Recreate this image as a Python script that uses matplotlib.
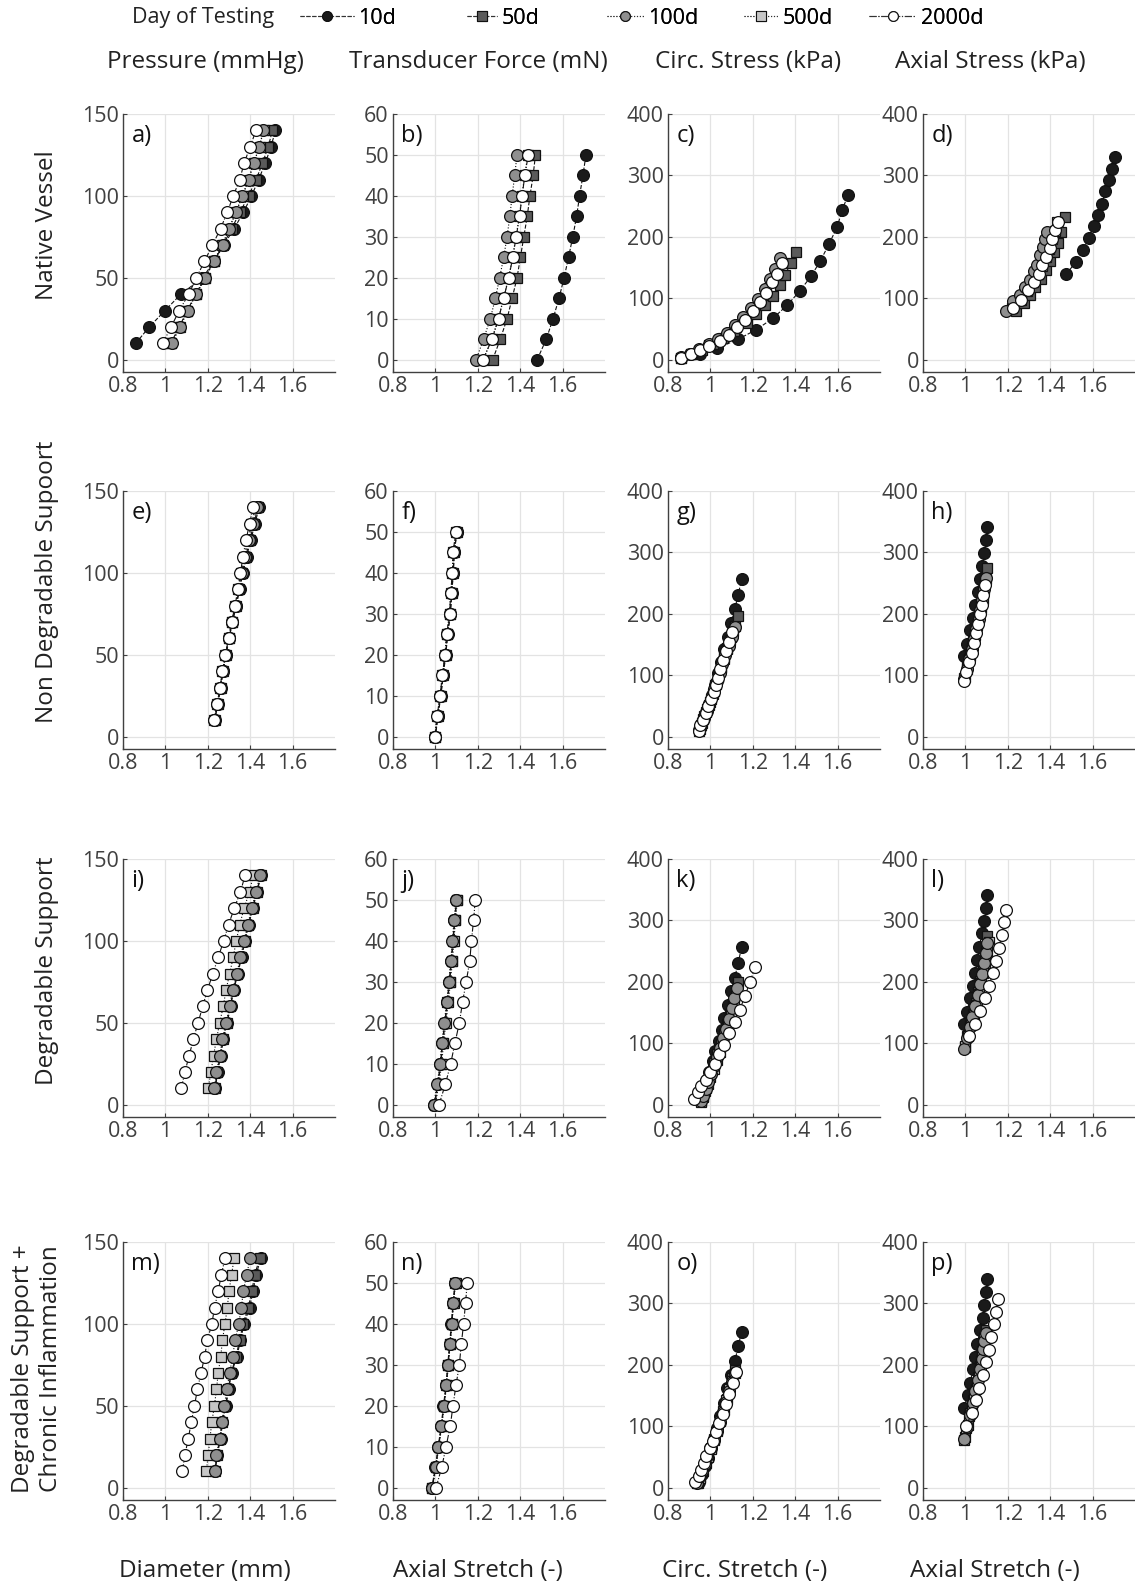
import matplotlib
matplotlib.use('Agg')
import matplotlib.pyplot as plt
from matplotlib.lines import Line2D

plt.rcParams['font.family'] = ['Open Sans', 'DejaVu Sans']

days = ['10d', '50d', '100d', '500d', '2000d']
face = ['#1a1a1a', '#5a5a5a', '#8f8f8f', '#c6c6c6', 'white']
mark = ['o', 's', 'o', 's', 'o']
styles = ['--', '--', ':', ':', '-.']
sizes = [8.5, 7.2, 8.5, 7.2, 8.5]
layer = [2, 3, 4, 3.5, 5]

pressure = [10, 20, 30, 40, 50, 60, 70, 80, 90, 100, 110, 120, 130, 140]
force = [0, 5, 10, 15, 20, 25, 30, 35, 40, 45, 50]

col_titles = ['Pressure (mmHg)', 'Transducer Force (mN)', 'Circ. Stress (kPa)', 'Axial Stress (kPa)']
x_titles = ['Diameter (mm)', 'Axial Stretch (-)', 'Circ. Stretch (-)', 'Axial Stretch (-)']
row_titles = ['Native Vessel', 'Non Degradable Supoort', 'Degradable Support',
              'Degradable Support +\nChronic Inflammation']
x_ticks = [0.8, 1, 1.2, 1.4, 1.6]
x_ticklabels = ['0.8', '1', '1.2', '1.4', '1.6']
y_ticks = [[0, 50, 100, 150], [0, 10, 20, 30, 40, 50, 60],
           [0, 100, 200, 300, 400], [0, 100, 200, 300, 400]]

# ---- native vessel ----
a_10d = [0.860, 0.924, 0.998, 1.073, 1.175, 1.230, 1.275, 1.324, 1.368, 1.406, 1.440, 1.471, 1.498, 1.519]
a_50d = [1.025, 1.065, 1.103, 1.143, 1.186, 1.228, 1.272, 1.312, 1.352, 1.392, 1.428, 1.458, 1.485, 1.505]
a_100d = [1.030, 1.070, 1.106, 1.146, 1.189, 1.229, 1.270, 1.300, 1.332, 1.363, 1.392, 1.416, 1.443, 1.462]
a_500d = [1.028, 1.068, 1.104, 1.144, 1.187, 1.227, 1.268, 1.300, 1.333, 1.364, 1.393, 1.417, 1.444, 1.463]
a_2000d = [0.987, 1.027, 1.065, 1.110, 1.146, 1.184, 1.222, 1.260, 1.292, 1.320, 1.351, 1.371, 1.400, 1.427]

b_10d = [1.480, 1.523, 1.555, 1.583, 1.607, 1.628, 1.648, 1.666, 1.680, 1.696, 1.710]
b_50d = [1.270, 1.306, 1.338, 1.362, 1.385, 1.401, 1.417, 1.433, 1.446, 1.461, 1.472]
b_100d = [1.192, 1.227, 1.259, 1.283, 1.303, 1.322, 1.338, 1.351, 1.362, 1.374, 1.385]
b_500d = [1.226, 1.266, 1.297, 1.321, 1.345, 1.364, 1.380, 1.396, 1.408, 1.421, 1.436]
b_2000d = [1.224, 1.267, 1.298, 1.322, 1.346, 1.365, 1.381, 1.397, 1.409, 1.422, 1.438]

c_10d_x = [0.863, 0.950, 1.033, 1.129, 1.217, 1.297, 1.363, 1.422, 1.475, 1.519, 1.559, 1.598, 1.621, 1.649]
c_10d_y = [3, 10, 19, 33, 49, 68, 89, 112, 136, 161, 188, 216, 243, 268]
c_50d_x = [0.862, 0.910, 0.960, 1.010, 1.060, 1.110, 1.173, 1.213, 1.257, 1.295, 1.327, 1.352, 1.379, 1.403]
c_50d_y = [3, 9, 16, 25, 35, 47, 60, 74, 89, 104, 121, 138, 157, 175]
c_100d_x = [0.860, 0.905, 0.948, 0.992, 1.038, 1.080, 1.118, 1.155, 1.193, 1.226, 1.256, 1.283, 1.307, 1.330]
c_100d_y = [4, 10, 17, 25, 34, 44, 56, 69, 84, 99, 115, 132, 148, 165]
c_500d_x = [0.862, 0.907, 0.950, 0.994, 1.040, 1.083, 1.122, 1.160, 1.198, 1.232, 1.262, 1.288, 1.312, 1.336]
c_500d_y = [3, 9, 16, 24, 32, 42, 54, 66, 81, 95, 110, 127, 141, 158]
c_2000d_x = [0.863, 0.908, 0.951, 0.995, 1.043, 1.086, 1.125, 1.162, 1.200, 1.233, 1.263, 1.289, 1.313, 1.337]
c_2000d_y = [3, 9, 16, 23, 31, 41, 53, 65, 80, 94, 109, 126, 140, 157]

d_10d_x = [1.476, 1.520, 1.555, 1.581, 1.605, 1.625, 1.644, 1.660, 1.677, 1.692, 1.707]
d_10d_y = [139, 159, 178, 198, 217, 235, 254, 274, 292, 311, 330]
d_50d_x = [1.240, 1.275, 1.305, 1.330, 1.355, 1.380, 1.400, 1.418, 1.435, 1.453, 1.471]
d_50d_y = [80, 92, 105, 118, 132, 146, 160, 175, 190, 208, 233]
d_100d_x = [1.193, 1.225, 1.256, 1.283, 1.303, 1.322, 1.338, 1.350, 1.366, 1.374, 1.385]
d_100d_y = [80, 95, 106, 118, 129, 145, 155, 170, 184, 196, 208]
d_500d_x = [1.222, 1.261, 1.292, 1.319, 1.344, 1.360, 1.379, 1.394, 1.407, 1.421, 1.434]
d_500d_y = [84, 97, 112, 126, 139, 153, 167, 181, 196, 210, 224]
d_2000d_x = [1.225, 1.264, 1.295, 1.322, 1.347, 1.363, 1.382, 1.397, 1.410, 1.424, 1.437]
d_2000d_y = [85, 98, 113, 127, 140, 154, 168, 182, 197, 211, 225]

# ---- non degradable support ----
e_10d = [1.233, 1.247, 1.261, 1.272, 1.286, 1.301, 1.316, 1.335, 1.350, 1.366, 1.383, 1.403, 1.422, 1.442]
e_50d = [1.232, 1.246, 1.260, 1.271, 1.285, 1.300, 1.315, 1.333, 1.348, 1.363, 1.379, 1.398, 1.417, 1.437]
e_100d = [1.231, 1.245, 1.259, 1.270, 1.284, 1.299, 1.314, 1.331, 1.345, 1.359, 1.374, 1.393, 1.412, 1.432]
e_500d = [1.230, 1.244, 1.258, 1.269, 1.283, 1.298, 1.313, 1.330, 1.343, 1.357, 1.370, 1.388, 1.406, 1.425]
e_2000d = [1.230, 1.244, 1.258, 1.269, 1.283, 1.298, 1.312, 1.329, 1.341, 1.354, 1.366, 1.380, 1.397, 1.414]

f_10d = [1.000, 1.012, 1.026, 1.037, 1.049, 1.058, 1.071, 1.077, 1.085, 1.089, 1.102]
f_50d = [0.999, 1.011, 1.025, 1.036, 1.048, 1.057, 1.070, 1.076, 1.084, 1.088, 1.101]
f_100d = [0.998, 1.010, 1.024, 1.035, 1.047, 1.056, 1.069, 1.075, 1.083, 1.087, 1.100]
f_500d = [0.997, 1.008, 1.022, 1.033, 1.045, 1.053, 1.067, 1.072, 1.080, 1.083, 1.097]
f_2000d = [0.997, 1.008, 1.022, 1.033, 1.045, 1.053, 1.067, 1.072, 1.080, 1.083, 1.097]

g_10d_x = [0.952, 0.965, 0.978, 0.993, 1.007, 1.021, 1.034, 1.050, 1.066, 1.082, 1.095, 1.115, 1.131, 1.147]
g_10d_y = [15, 27, 40, 54, 68, 84, 104, 122, 143, 163, 185, 208, 231, 256]
g_50d_x = [0.950, 0.960, 0.972, 0.985, 0.998, 1.010, 1.023, 1.036, 1.050, 1.064, 1.080, 1.097, 1.114, 1.131]
g_50d_y = [12, 22, 33, 45, 57, 70, 84, 98, 113, 129, 145, 162, 180, 197]
g_100d_x = [0.948, 0.958, 0.970, 0.982, 0.995, 1.007, 1.019, 1.031, 1.043, 1.057, 1.071, 1.086, 1.101, 1.115]
g_100d_y = [11, 21, 31, 42, 54, 66, 78, 91, 104, 118, 133, 148, 163, 178]
g_500d_x = [0.946, 0.955, 0.967, 0.979, 0.992, 1.004, 1.016, 1.028, 1.038, 1.050, 1.064, 1.077, 1.091, 1.106]
g_500d_y = [9, 19, 29, 40, 51, 62, 74, 86, 98, 112, 127, 142, 157, 172]
g_2000d_x = [0.945, 0.953, 0.965, 0.977, 0.990, 1.002, 1.015, 1.026, 1.035, 1.047, 1.061, 1.074, 1.087, 1.102]
g_2000d_y = [9, 19, 28, 39, 50, 61, 72, 84, 96, 110, 125, 140, 155, 170]

h_10d_x = [0.994, 1.008, 1.021, 1.034, 1.045, 1.058, 1.069, 1.077, 1.089, 1.097, 1.102]
h_10d_y = [131, 151, 173, 193, 215, 235, 257, 278, 299, 321, 342]
h_50d_x = [0.996, 1.008, 1.020, 1.032, 1.043, 1.054, 1.065, 1.075, 1.084, 1.093, 1.102]
h_50d_y = [98, 115, 132, 148, 165, 182, 199, 216, 235, 254, 274]
h_100d_x = [0.995, 1.006, 1.018, 1.030, 1.041, 1.052, 1.062, 1.071, 1.080, 1.088, 1.096]
h_100d_y = [94, 110, 127, 143, 159, 175, 191, 207, 223, 240, 258]
h_500d_x = [0.995, 1.006, 1.019, 1.030, 1.041, 1.052, 1.063, 1.072, 1.081, 1.089, 1.097]
h_500d_y = [95, 111, 127, 143, 160, 176, 193, 209, 225, 241, 257]
h_2000d_x = [0.994, 1.005, 1.018, 1.029, 1.040, 1.050, 1.061, 1.069, 1.077, 1.085, 1.094]
h_2000d_y = [90, 106, 122, 137, 153, 169, 184, 199, 215, 231, 247]

# ---- degradable support ----
i_10d = [1.236, 1.246, 1.261, 1.274, 1.291, 1.308, 1.322, 1.342, 1.359, 1.376, 1.393, 1.413, 1.432, 1.452]
i_50d = [1.234, 1.244, 1.259, 1.272, 1.289, 1.306, 1.320, 1.340, 1.357, 1.374, 1.391, 1.411, 1.430, 1.450]
i_100d = [1.231, 1.241, 1.256, 1.269, 1.286, 1.303, 1.317, 1.337, 1.354, 1.371, 1.388, 1.408, 1.427, 1.447]
i_500d = [1.202, 1.215, 1.227, 1.241, 1.256, 1.273, 1.286, 1.303, 1.320, 1.334, 1.351, 1.371, 1.397, 1.414]
i_2000d = [1.075, 1.092, 1.112, 1.132, 1.154, 1.176, 1.198, 1.224, 1.249, 1.275, 1.298, 1.325, 1.354, 1.376]

j_10d = [0.995, 1.010, 1.024, 1.032, 1.044, 1.055, 1.065, 1.074, 1.082, 1.090, 1.099]
j_50d = [0.997, 1.012, 1.026, 1.034, 1.046, 1.057, 1.067, 1.076, 1.084, 1.092, 1.101]
j_100d = [0.992, 1.008, 1.022, 1.030, 1.042, 1.053, 1.063, 1.072, 1.080, 1.088, 1.097]
j_500d = [1.000, 1.016, 1.030, 1.038, 1.050, 1.061, 1.071, 1.080, 1.088, 1.094, 1.104]
j_2000d = [1.017, 1.047, 1.072, 1.092, 1.113, 1.128, 1.145, 1.162, 1.170, 1.180, 1.188]

k_10d_x = [0.958, 0.969, 0.981, 0.994, 1.010, 1.023, 1.039, 1.053, 1.066, 1.082, 1.098, 1.115, 1.131, 1.147]
k_10d_y = [8, 22, 38, 54, 71, 87, 103, 122, 141, 163, 185, 207, 231, 256]
k_50d_x = [0.957, 0.967, 0.978, 0.990, 1.004, 1.018, 1.033, 1.048, 1.063, 1.078, 1.093, 1.106, 1.119, 1.131]
k_50d_y = [6, 15, 27, 40, 54, 68, 83, 99, 115, 131, 148, 165, 182, 199]
k_100d_x = [0.956, 0.966, 0.977, 0.989, 1.002, 1.016, 1.031, 1.046, 1.061, 1.075, 1.089, 1.101, 1.113, 1.125]
k_100d_y = [6, 14, 25, 37, 50, 63, 78, 93, 108, 124, 140, 157, 174, 190]
k_500d_x = [0.955, 0.965, 0.975, 0.988, 1.000, 1.015, 1.030, 1.045, 1.060, 1.073, 1.085, 1.097, 1.110, 1.123]
k_500d_y = [5, 12, 22, 33, 45, 58, 72, 86, 100, 115, 131, 148, 166, 182]
k_2000d_x = [0.921, 0.940, 0.958, 0.977, 0.997, 1.021, 1.042, 1.066, 1.090, 1.115, 1.139, 1.163, 1.187, 1.211]
k_2000d_y = [10, 20, 30, 41, 53, 67, 83, 98, 116, 135, 155, 177, 200, 224]

l_10d_x = [0.994, 1.008, 1.021, 1.034, 1.045, 1.056, 1.066, 1.077, 1.089, 1.097, 1.102]
l_10d_y = [131, 151, 173, 193, 215, 236, 257, 279, 299, 321, 342]
l_50d_x = [0.996, 1.008, 1.022, 1.035, 1.048, 1.060, 1.071, 1.082, 1.091, 1.097, 1.102]
l_50d_y = [94, 112, 130, 148, 166, 184, 202, 220, 238, 256, 275]
l_100d_x = [0.994, 1.006, 1.020, 1.033, 1.046, 1.058, 1.069, 1.079, 1.088, 1.095, 1.100]
l_100d_y = [91, 108, 126, 143, 161, 178, 196, 213, 230, 247, 264]
l_500d_x = [0.997, 1.010, 1.026, 1.040, 1.053, 1.065, 1.074, 1.085, 1.094, 1.102, 1.110]
l_500d_y = [95, 112, 129, 146, 163, 181, 198, 215, 231, 248, 265]
l_2000d_x = [1.018, 1.045, 1.069, 1.094, 1.113, 1.129, 1.145, 1.158, 1.171, 1.182, 1.190]
l_2000d_y = [112, 132, 153, 173, 194, 215, 234, 255, 276, 297, 317]

# ---- degradable support + chronic inflammation ----
m_10d = [1.236, 1.244, 1.261, 1.269, 1.286, 1.298, 1.312, 1.337, 1.354, 1.371, 1.397, 1.414, 1.427, 1.451]
m_50d = [1.234, 1.242, 1.258, 1.267, 1.283, 1.296, 1.310, 1.333, 1.350, 1.366, 1.391, 1.408, 1.421, 1.445]
m_100d = [1.232, 1.241, 1.256, 1.266, 1.278, 1.290, 1.303, 1.317, 1.329, 1.346, 1.358, 1.368, 1.383, 1.400]
m_500d = [1.193, 1.202, 1.210, 1.219, 1.231, 1.241, 1.249, 1.261, 1.269, 1.281, 1.292, 1.300, 1.312, 1.324]
m_2000d = [1.080, 1.092, 1.108, 1.122, 1.137, 1.151, 1.168, 1.185, 1.198, 1.219, 1.232, 1.249, 1.264, 1.281]

n_10d = [0.983, 1.000, 1.013, 1.027, 1.038, 1.050, 1.058, 1.067, 1.075, 1.083, 1.092]
n_50d = [0.985, 1.002, 1.015, 1.029, 1.040, 1.052, 1.060, 1.069, 1.077, 1.085, 1.094]
n_100d = [0.984, 1.001, 1.014, 1.028, 1.039, 1.051, 1.059, 1.068, 1.076, 1.084, 1.093]
n_500d = [0.986, 1.003, 1.016, 1.030, 1.041, 1.053, 1.061, 1.070, 1.078, 1.086, 1.095]
n_2000d = [1.003, 1.030, 1.050, 1.070, 1.083, 1.097, 1.113, 1.122, 1.133, 1.142, 1.150]

o_10d_x = [0.948, 0.961, 0.975, 0.989, 1.003, 1.017, 1.031, 1.046, 1.062, 1.077, 1.095, 1.115, 1.131, 1.147]
o_10d_y = [10, 22, 35, 49, 64, 80, 97, 116, 138, 162, 183, 206, 230, 254]
o_50d_x = [0.940, 0.952, 0.964, 0.977, 0.990, 1.004, 1.018, 1.032, 1.047, 1.062, 1.076, 1.090, 1.104, 1.117]
o_50d_y = [8, 17, 28, 40, 52, 65, 79, 94, 110, 127, 144, 162, 178, 192]
o_100d_x = [0.935, 0.948, 0.960, 0.973, 0.985, 1.000, 1.015, 1.029, 1.044, 1.059, 1.074, 1.089, 1.103, 1.116]
o_100d_y = [8, 18, 28, 39, 51, 64, 78, 92, 107, 123, 140, 157, 172, 186]
o_500d_x = [0.938, 0.950, 0.962, 0.975, 0.988, 1.002, 1.016, 1.030, 1.045, 1.060, 1.075, 1.090, 1.104, 1.118]
o_500d_y = [7, 16, 27, 38, 50, 63, 77, 92, 108, 125, 143, 160, 174, 186]
o_2000d_x = [0.929, 0.945, 0.956, 0.969, 0.981, 0.997, 1.013, 1.026, 1.042, 1.058, 1.074, 1.090, 1.106, 1.119]
o_2000d_y = [10, 19, 29, 40, 52, 64, 76, 90, 105, 120, 136, 153, 171, 189]

p_10d_x = [0.994, 1.010, 1.024, 1.034, 1.045, 1.056, 1.069, 1.081, 1.089, 1.097, 1.102]
p_10d_y = [130, 151, 171, 193, 213, 234, 256, 276, 298, 318, 340]
p_50d_x = [0.996, 1.010, 1.024, 1.037, 1.050, 1.061, 1.071, 1.080, 1.087, 1.093, 1.097]
p_50d_y = [82, 102, 122, 142, 161, 180, 198, 215, 231, 244, 257]
p_100d_x = [0.995, 1.008, 1.022, 1.035, 1.047, 1.058, 1.068, 1.077, 1.084, 1.090, 1.095]
p_100d_y = [80, 99, 119, 138, 157, 175, 193, 210, 226, 239, 252]
p_500d_x = [0.994, 1.005, 1.018, 1.030, 1.042, 1.053, 1.063, 1.072, 1.080, 1.085, 1.090]
p_500d_y = [78, 97, 116, 135, 153, 171, 189, 206, 222, 234, 246]
p_2000d_x = [1.005, 1.029, 1.048, 1.066, 1.082, 1.098, 1.110, 1.123, 1.134, 1.145, 1.153]
p_2000d_y = [101, 121, 143, 163, 183, 204, 224, 245, 266, 286, 307]

# panel order: rows, then columns (x-series lists, y-series lists)
panels = [
    ('a', [a_10d, a_50d, a_100d, a_500d, a_2000d], [pressure] * 5),
    ('b', [b_10d, b_50d, b_100d, b_500d, b_2000d], [force] * 5),
    ('c', [c_10d_x, c_50d_x, c_100d_x, c_500d_x, c_2000d_x], [c_10d_y, c_50d_y, c_100d_y, c_500d_y, c_2000d_y]),
    ('d', [d_10d_x, d_50d_x, d_100d_x, d_500d_x, d_2000d_x], [d_10d_y, d_50d_y, d_100d_y, d_500d_y, d_2000d_y]),
    ('e', [e_10d, e_50d, e_100d, e_500d, e_2000d], [pressure] * 5),
    ('f', [f_10d, f_50d, f_100d, f_500d, f_2000d], [force] * 5),
    ('g', [g_10d_x, g_50d_x, g_100d_x, g_500d_x, g_2000d_x], [g_10d_y, g_50d_y, g_100d_y, g_500d_y, g_2000d_y]),
    ('h', [h_10d_x, h_50d_x, h_100d_x, h_500d_x, h_2000d_x], [h_10d_y, h_50d_y, h_100d_y, h_500d_y, h_2000d_y]),
    ('i', [i_10d, i_50d, i_100d, i_500d, i_2000d], [pressure] * 5),
    ('j', [j_10d, j_50d, j_100d, j_500d, j_2000d], [force] * 5),
    ('k', [k_10d_x, k_50d_x, k_100d_x, k_500d_x, k_2000d_x], [k_10d_y, k_50d_y, k_100d_y, k_500d_y, k_2000d_y]),
    ('l', [l_10d_x, l_50d_x, l_100d_x, l_500d_x, l_2000d_x], [l_10d_y, l_50d_y, l_100d_y, l_500d_y, l_2000d_y]),
    ('m', [m_10d, m_50d, m_100d, m_500d, m_2000d], [pressure] * 5),
    ('n', [n_10d, n_50d, n_100d, n_500d, n_2000d], [force] * 5),
    ('o', [o_10d_x, o_50d_x, o_100d_x, o_500d_x, o_2000d_x], [o_10d_y, o_50d_y, o_100d_y, o_500d_y, o_2000d_y]),
    ('p', [p_10d_x, p_50d_x, p_100d_x, p_500d_x, p_2000d_x], [p_10d_y, p_50d_y, p_100d_y, p_500d_y, p_2000d_y]),
]

W, H = 1135, 1588
fig = plt.figure(figsize=(W / 100, H / 100), dpi=100)

col_left = [123, 393, 668, 923]
row_bottom = [372, 749, 1117, 1500]
ax_w, ax_h = 212, 258
grey = '#404040'

for k, (lab, xs, ys) in enumerate(panels):
    r, c = divmod(k, 4)
    ax = fig.add_axes([col_left[c] / W, 1 - row_bottom[r] / H, ax_w / W, ax_h / H])
    for s in range(5):
        ax.plot(xs[s], ys[s], ls=styles[s], color='#111111', lw=0.8, zorder=layer[s],
                marker=mark[s], ms=sizes[s], mfc=face[s], mec='#111111', mew=0.9)
    top = y_ticks[c][-1]
    ax.set_ylim(-0.05 * top, top)
    ax.set_xlim(0.8, 1.8)
    ax.set_yticks(y_ticks[c])
    ax.set_xticks(x_ticks)
    ax.set_xticklabels(x_ticklabels)
    ax.grid(True, color='#e3e3e3', lw=0.9)
    ax.set_axisbelow(True)
    for sp in ['top', 'right']:
        ax.spines[sp].set_visible(False)
    for sp in ['left', 'bottom']:
        ax.spines[sp].set_color(grey)
        ax.spines[sp].set_linewidth(1.0)
    ax.tick_params(labelsize=15.5, colors=grey, direction='in', length=3, pad=3)
    ax.text(0.04, 0.89, lab + ')', transform=ax.transAxes, fontsize=17, color='#111111')

col_title_x = [205, 478, 748, 990]
x_title_x = [205, 478, 745, 995]
for c in range(4):
    fig.text(col_title_x[c] / W, 1 - 62 / H, col_titles[c], ha='center', va='center',
             fontsize=17.5, color='#222222')
    fig.text(x_title_x[c] / W, 1 - 1571 / H, x_titles[c], ha='center', va='center',
             fontsize=17.5, color='#222222')

row_title_y = [225, 582, 971, 1369]
row_title_x = [47, 47, 47, 37]
for r in range(4):
    fig.text(row_title_x[r] / W, 1 - row_title_y[r] / H, row_titles[r], rotation=90,
             ha='center', va='center', fontsize=17.5, color='#222222', linespacing=1.2)

# legend strip along the top: one entry per day, placed where the reference has it
fig.text(132 / W, 1 - 18 / H, 'Day of Testing', ha='left', va='center', fontsize=15.5, color='#222222')
legend_x = [300, 467, 607, 744, 869]
legend_len = [2.5, 1.4, 1.7, 1.6, 2.2]
for s in range(5):
    h = Line2D([], [], ls=styles[s], color='#333333', lw=0.8, marker=mark[s], ms=7,
               mfc=face[s], mec='#111111', mew=0.8)
    leg = fig.legend([h], [days[s]], loc='center left', bbox_to_anchor=(legend_x[s] / W, 1 - 18 / H),
                     frameon=False, fontsize=15.5, handlelength=legend_len[s], handletextpad=0.2,
                     borderpad=0, borderaxespad=0)
    fig.add_artist(leg)

fig.savefig('out.png', dpi=100)
